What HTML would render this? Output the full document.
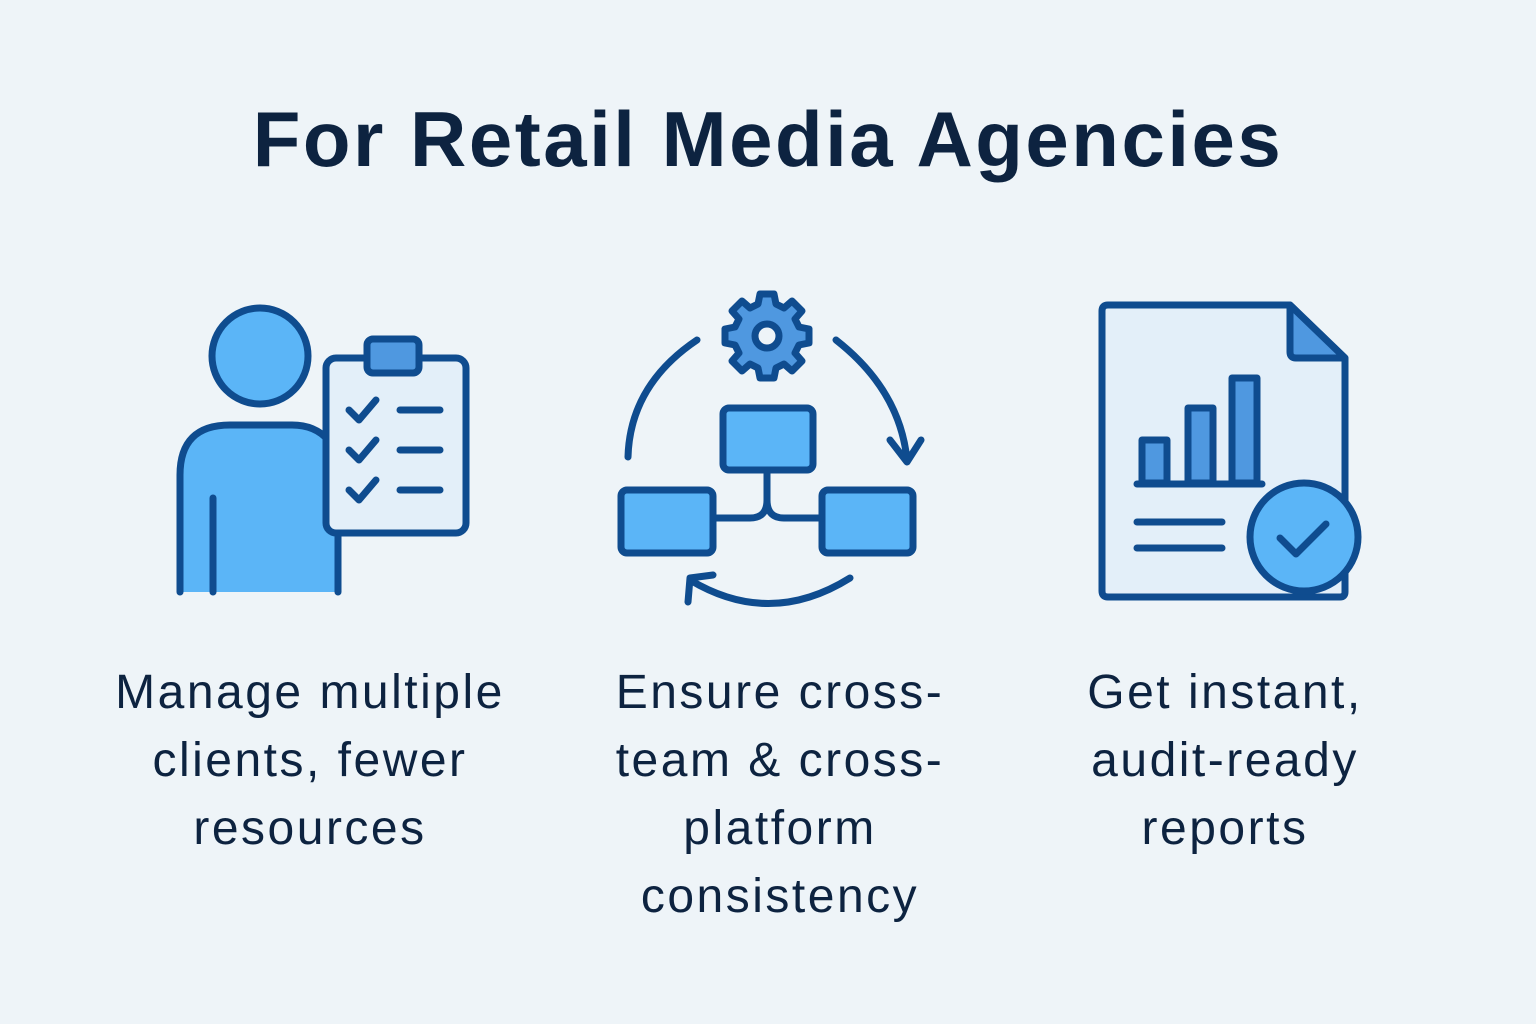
<!DOCTYPE html>
<html><head><style>
html,body{margin:0;padding:0;}
body{width:1536px;height:1024px;background:#eef4f8;position:relative;overflow:hidden;font-family:"Liberation Sans",sans-serif;color:#0d2340;}
.t{position:absolute;left:0;width:1536px;top:94px;text-align:center;font-size:78px;font-weight:bold;letter-spacing:2.5px;}
.l{position:absolute;text-align:center;font-size:48px;line-height:68px;width:520px;letter-spacing:2.5px;}
</style></head><body>
<div class="t">For Retail Media Agencies</div>
<svg width="1536" height="1024" style="position:absolute;left:0;top:0" fill="none" stroke="#0f4c8f" stroke-width="7" stroke-linecap="round" stroke-linejoin="round">
<path d="M180 592 V475 Q180 425 230 425 H292 Q325 425 338 450 V592 Z" fill="#5bb5f7" stroke="none"/>
<path d="M180 592 V475 Q180 425 230 425 H292 Q315 425 328 440 M338 533 V592 M213 498 V592"/>
<circle cx="260" cy="356" r="48" fill="#5bb5f7"/>
<rect x="326" y="358" width="140" height="175" rx="10" fill="#e3eff9"/>
<rect x="367" y="339" width="52" height="34" rx="6" fill="#4f98e0"/>
<path d="M349 410 l10 10 l17 -20 M349 450 l10 10 l17 -20 M349 490 l10 10 l17 -20"/>
<path d="M400 410 H440 M400 450 H440 M400 490 H440"/>
<g transform="translate(767,336)" fill="#4f98e0">
<path d="M-7 -42 H7 L9 -32 L17 -28 L25 -35 L35 -25 L28 -17 L32 -9 L42 -7 V7 L32 9 L28 17 L35 25 L25 35 L17 28 L9 32 L7 42 H-7 L-9 32 L-17 28 L-25 35 L-35 25 L-28 17 L-32 9 L-42 7 V-7 L-32 -9 L-28 -17 L-35 -25 L-25 -35 L-17 -28 L-9 -32 Z"/>
<circle r="12" fill="#eef4f8"/>
</g>
<path d="M628 457 Q630 385 697 340"/>
<path d="M836 340 Q900 390 907 460 M890 440 L907 462 L921 440"/>
<path d="M850 578 Q770 628 690 580 M688 602 L690 578 L713 575"/>
<rect x="723" y="408" width="90" height="62" rx="6" fill="#5bb5f7"/>
<rect x="621" y="490" width="92" height="63" rx="6" fill="#5bb5f7"/>
<rect x="822" y="490" width="91" height="63" rx="6" fill="#5bb5f7"/>
<path d="M767 470 V500 Q767 518 750 518 H713 M767 500 Q767 518 784 518 H822"/>
<path d="M1108 305 H1290 L1345 358 V592 Q1345 597 1340 597 H1108 Q1102 597 1102 591 V311 Q1102 305 1108 305 Z" fill="#e3eff9"/>
<path d="M1290 305 V352 Q1290 358 1296 358 H1345 Z" fill="#4f98e0"/>
<rect x="1142" y="440" width="25" height="43" fill="#4f98e0"/>
<rect x="1188" y="408" width="25" height="75" fill="#4f98e0"/>
<rect x="1232" y="378" width="25" height="105" fill="#4f98e0"/>
<path d="M1137 484 H1262 M1137 522 H1222 M1137 548 H1222"/>
<circle cx="1304" cy="537" r="54" fill="#5bb5f7"/>
<path d="M1280 538 l16 16 l30 -30"/>
</svg>
<div class="l" style="left:50px;top:659px">Manage multiple<br>clients, fewer<br>resources</div>
<div class="l" style="left:520px;top:659px">Ensure cross-<br>team &amp; cross-<br>platform<br>consistency</div>
<div class="l" style="left:965px;top:659px">Get instant,<br>audit-ready<br>reports</div>
</body></html>
